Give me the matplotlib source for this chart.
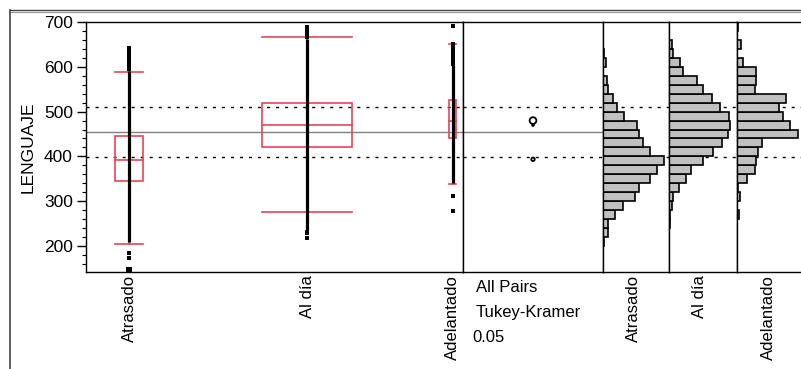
import matplotlib
matplotlib.use('Agg')
import matplotlib.pyplot as plt
from matplotlib.patches import Rectangle, Ellipse
from matplotlib.lines import Line2D
from matplotlib.ticker import MultipleLocator

plt.rcParams['font.family'] = ['Liberation Sans', 'DejaVu Sans']

# ---------------- data ----------------
categories = ['Atrasado', 'Al día', 'Adelantado']
group_size = [86, 270, 21]          # relative group sizes (JMP column widths)

q1 = [345, 421, 442]
median = [392, 469, 479]
q3 = [446, 519, 527]
whisk_lo = [205, 277, 338]
whisk_hi = [589, 666, 652]

dense_lo = [208, 236, 340]           # continuous run of overlapping points
dense_hi = [590, 663, 603]
sparse_pts = [
    [596, 601, 606, 611, 616, 621, 626, 631, 636, 641, 184, 173],
    [667, 671, 675, 679, 684, 688, 232, 228, 219],
    [691, 652, 646, 640, 633, 626, 619, 612, 606, 312, 279],
]
clipped_pts = [[146], [], []]

grand_mean = 454.5
ref_hi = 510
ref_lo = 399

group_mean = [393.5, 470, 480]
circle_radius = [3.8, 2.0, 7.5]

bin_lo = [200, 220, 240, 260, 280, 300, 320, 340, 360, 380,
          400, 420, 440, 460, 480, 500, 520, 540, 560, 580,
          600, 620, 640, 660, 680]
bin_width = 20
hist_atrasado = [12, 52, 52, 122, 204, 320, 360, 470, 542, 612,
                 470, 395, 358, 343, 205, 135, 95, 53, 37, 0,
                 27, 10, 0, 0, 0]
hist_aldia = [0, 0, 7, 7, 27, 40, 97, 167, 220, 337,
              443, 533, 587, 613, 600, 513, 427, 343, 280, 137,
              110, 43, 27, 0, 0]
hist_adelantado = [0, 0, 0, 17, 0, 27, 10, 100, 180, 193,
                   207, 247, 610, 527, 457, 420, 487, 180, 193, 193,
                   57, 0, 43, 0, 10]
hists = [hist_atrasado, hist_aldia, hist_adelantado]

y_min, y_max = 142, 700
side_text = ['All Pairs', 'Tukey-Kramer', '0.05']

# ---------------- layout ----------------
W, H = 801, 369
fig = plt.figure(figsize=(W / 100, H / 100), dpi=100)


def rect(x0, x1, y0, y1):
    return [x0 / W, 1 - y1 / H, (x1 - x0) / W, (y1 - y0) / H]


RED = '#e8435a'
top, bot = 22, 272

ax = fig.add_axes(rect(86, 463, top, bot))
axc = fig.add_axes(rect(463, 603, top, bot))
hist_axes = [fig.add_axes(rect(603, 669, top, bot)),
             fig.add_axes(rect(669, 737, top, bot)),
             fig.add_axes(rect(737, 805, top, bot))]

dot_style = dict(color='black', lw=1.0, linestyle=(0, (2.2, 4.3)), zorder=1)

# ---------------- box / points panel ----------------
edges = [0]
for s in group_size:
    edges.append(edges[-1] + s)
centers = [(edges[i] + edges[i + 1]) / 2 for i in range(3)]

ax.set_xlim(0, edges[-1])
ax.set_ylim(y_min, y_max)
ax.axhline(grand_mean, color='#808080', lw=1.0, zorder=1)
ax.axhline(ref_hi, **dot_style)
ax.axhline(ref_lo, **dot_style)

for i in range(3):
    c = centers[i]
    hw = group_size[i] / 6
    ax.add_patch(Rectangle((c - hw, q1[i]), 2 * hw, q3[i] - q1[i],
                           fill=False, edgecolor=RED, lw=1.2, zorder=2))
    ax.plot([c - hw, c + hw], [median[i], median[i]], color=RED, lw=1.2, zorder=2)
    for w in (whisk_lo[i], whisk_hi[i]):
        ax.plot([c - hw, c + hw], [w, w], color=RED, lw=1.2, zorder=2)
    ax.plot([c, c], [whisk_lo[i], q1[i]], color=RED, lw=1.2, zorder=2)
    ax.plot([c, c], [q3[i], whisk_hi[i]], color=RED, lw=1.2, zorder=2)
    # points
    ax.vlines(c, dense_lo[i], dense_hi[i], color='black', lw=2.3, zorder=3)
    ax.plot([c] * len(sparse_pts[i]), sparse_pts[i], 's', color='black',
            ms=2.3, mew=0, zorder=3)
    if clipped_pts[i]:
        ax.plot([c] * len(clipped_pts[i]), clipped_pts[i], 's', color='black',
                ms=4.2, mew=0, zorder=3, clip_on=False)

ax.set_xticks(centers)
ax.set_xticklabels(categories, rotation=90, fontsize=12, va='top', ha='center')
ax.tick_params(axis='x', length=0, pad=2)
ax.yaxis.set_major_locator(MultipleLocator(100))
ax.yaxis.set_minor_locator(MultipleLocator(20))
ax.tick_params(axis='y', which='major', length=6.5, width=1.0, labelsize=12.5, pad=3)
ax.tick_params(axis='y', which='minor', length=3, width=0.8)
ax.set_yticks([200, 300, 400, 500, 600, 700])
ax.set_ylabel('LENGUAJE', fontsize=12.5, labelpad=6)
for sp in ax.spines.values():
    sp.set_linewidth(1.0)

# ---------------- comparison circles panel ----------------
axc.set_xlim(0, 1)
axc.set_ylim(y_min, y_max)
axc.axhline(grand_mean, color='#808080', lw=1.0, zorder=1)
axc.axhline(ref_hi, **dot_style)
axc.axhline(ref_lo, **dot_style)
px_per_y = (bot - top) / (y_max - y_min)
px_w = 603 - 463
for i in range(3):
    r = circle_radius[i]
    axc.add_patch(Ellipse((0.5, group_mean[i]), 2 * r * px_per_y / px_w, 2 * r,
                          fill=False, edgecolor='black', lw=1.3, zorder=3))
axc.set_xticks([])
axc.set_yticks([])
for sp in axc.spines.values():
    sp.set_linewidth(1.0)

# ---------------- histograms ----------------
panel_px = [66, 68, 68]
for k, axh in enumerate(hist_axes):
    axh.set_ylim(y_min, y_max)
    axh.set_xlim(0, panel_px[k] * 10)
    axh.axhline(ref_hi, **dot_style)
    axh.axhline(ref_lo, **dot_style)
    axh.barh([b + bin_width / 2 for b in bin_lo], hists[k], height=bin_width,
             color='#c0c0c0', edgecolor='black', lw=1.2, zorder=2)
    axh.set_yticks([])
    axh.set_xticks([panel_px[k] * 10 / 2 - 30])
    axh.set_xticklabels([categories[k]], rotation=90, fontsize=12, va='top', ha='center')
    axh.tick_params(axis='x', length=0, pad=2)
    for sp in axh.spines.values():
        sp.set_linewidth(1.0)

# ---------------- side text ----------------
fig.text(476 / W, 1 - 287 / H, side_text[0], fontsize=12, va='center', ha='left')
fig.text(476 / W, 1 - 312 / H, side_text[1], fontsize=12, va='center', ha='left')
fig.text(472 / W, 1 - 337 / H, side_text[2], fontsize=12, va='center', ha='left')

# ---------------- outer frame ----------------
fig.add_artist(Line2D([10 / W, 1], [1 - 9.5 / H, 1 - 9.5 / H], color='#444444', lw=1.0,
                      transform=fig.transFigure))
fig.add_artist(Line2D([10 / W, 1], [1 - 11.5 / H, 1 - 11.5 / H], color='#999999', lw=0.8,
                      transform=fig.transFigure))
fig.add_artist(Line2D([10 / W, 10 / W], [1 - 9.5 / H, 0], color='#444444', lw=1.2,
                      transform=fig.transFigure))

fig.savefig('out.png', dpi=100)
